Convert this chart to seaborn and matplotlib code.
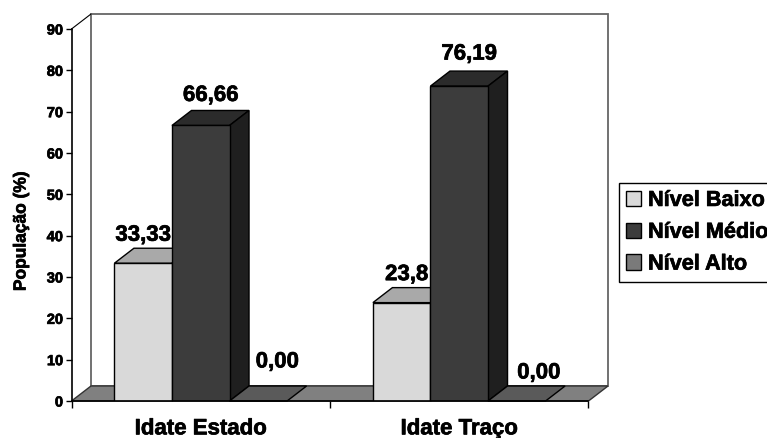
import pandas as pd
import matplotlib.pyplot as plt
import matplotlib.patheffects as pe
import seaborn as sns
from matplotlib.patches import Polygon
from matplotlib.text import Text

# data
categories = ["Idate Estado", "Idate Traço"]
niveis = ["Nível Baixo", "Nível Médio", "Nível Alto"]
baixo = [33.33, 23.8]
medio = [66.66, 76.19]
alto = [0.00, 0.00]
rotulos = {"Nível Baixo": ["33,33", "23,8"],
           "Nível Médio": ["66,66", "76,19"],
           "Nível Alto": ["0,00", "0,00"]}

# colours: front, top, side of each bar
frente = ["#d9d9d9", "#3c3c3c", "#7a7a7a"]
topo = ["#a9a9a9", "#2b2b2b", "#5a5a5a"]
lado = ["#a0a0a0", "#1f1f1f", "#4c4c4c"]

# hand placed label offsets, pixels from the bar top centre
desvio = {"Nível Baixo": [(0, 28), (5, 28)],
          "Nível Médio": [(10, 30), (10, 32)],
          "Nível Alto": [(19, 39), (22, 28)]}

df = pd.DataFrame({"categoria": categories * 3,
                   "nivel": [n for n in niveis for _ in categories],
                   "valor": baixo + medio + alto})

sns.set_theme(style="white")
plt.rcParams["font.family"] = ["Liberation Sans", "DejaVu Sans"]
plt.rcParams["font.weight"] = "bold"

W, H = 767, 438
fig = plt.figure(figsize=(W / 100, H / 100), dpi=100, facecolor="white")
ax = fig.add_axes([71.5 / W, 1 - 401 / H, 517 / W, 372 / H])
ax.patch.set_alpha(0)

sns.barplot(data=df, x="categoria", y="valor", hue="nivel", palette=frente,
            width=0.668, gap=0, saturation=1, edgecolor="black", linewidth=1,
            ax=ax, zorder=5)

ax.set_xlim(-0.5, 1.5)
ax.set_ylim(0, 90)

# depth of the fake 3d, in data units
dx = 19.5 / 258.5
dy = 15 / 4.133


def face(pontos, cor, z, borda="black", lw=1):
    ax.add_patch(Polygon(pontos, closed=True, facecolor=cor, edgecolor=borda,
                         linewidth=lw, zorder=z, clip_on=False))


# back wall and floor
face([(-0.5 + dx, dy), (-0.5 + dx, 90 + dy), (1.5 + dx, 90 + dy), (1.5 + dx, dy)],
     "white", 1, borda="#666666", lw=1.3)
face([(-0.5, 0), (1.5, 0), (1.5 + dx, dy), (-0.5 + dx, dy)], "#808080", 2,
     borda="#333333")
ax.plot([-0.5, -0.5 + dx], [90, 90 + dy], color="black", lw=0.8, clip_on=False, zorder=2)

# bar tops, sides and labels
for i, nivel in enumerate(niveis):
    for j, barra in enumerate(ax.containers[i]):
        x0 = barra.get_x()
        x1 = x0 + barra.get_width()
        h = barra.get_height()
        z = 5 + i
        barra.set_zorder(z + 0.2)
        face([(x0, h), (x1, h), (x1 + dx, h + dy), (x0 + dx, h + dy)], topo[i], z)
        if h > 0:
            face([(x1, 0), (x1 + dx, dy), (x1 + dx, h + dy), (x1, h)], lado[i], z)
        ax.annotate(rotulos[nivel][j], ((x0 + x1) / 2, h), xytext=desvio[nivel][j],
                    textcoords="offset pixels", ha="center", va="center",
                    fontsize=16, fontweight="bold", color="black", zorder=20,
                    annotation_clip=False)

# axes
sns.despine(ax=ax, top=True, right=True)
for s in ["left", "bottom"]:
    ax.spines[s].set_color("black")
    ax.spines[s].set_linewidth(1.2)
    ax.spines[s].set_zorder(15)

ax.set_yticks(range(0, 100, 10))
ax.tick_params(axis="y", left=True, length=4, width=1, color="black", pad=2,
               labelsize=10.5, labelcolor="black")
ax.set_xticks([-0.5, 0.5, 1.5], minor=True)
ax.tick_params(axis="x", which="minor", bottom=True, length=5, width=1, color="black")
ax.tick_params(axis="x", which="major", bottom=False, pad=6.5, labelsize=16,
               labelcolor="black")
for t in ax.get_xticklabels() + ax.get_yticklabels():
    t.set_fontweight("bold")

ax.set_xlabel("")
ax.set_ylabel("")
fig.text(21 / W, 1 - 231 / H, "População (%)", rotation=90, ha="center", va="center",
         fontsize=12.5, fontweight="bold", color="black")

# legend runs off the right edge, like in the original
sns.move_legend(ax, "upper left", bbox_to_anchor=(619 / W, 1 - 183 / H),
                bbox_transform=fig.transFigure, title=None, frameon=True,
                fontsize=15.6, borderaxespad=0, borderpad=0.32, labelspacing=0.5,
                handlelength=0.7, handleheight=0.7, handletextpad=0.32,
                fancybox=False, edgecolor="black", framealpha=1)
leg = ax.get_legend()
leg.get_frame().set_linewidth(1)
leg.set_zorder(30)
for t in leg.get_texts():
    t.set_color("black")
    t.set_fontweight("bold")

# the original text looks a bit heavier
for t in fig.findobj(Text):
    t.set_path_effects([pe.withStroke(linewidth=0.5, foreground="black")])

fig.savefig("out.png", dpi=100)
